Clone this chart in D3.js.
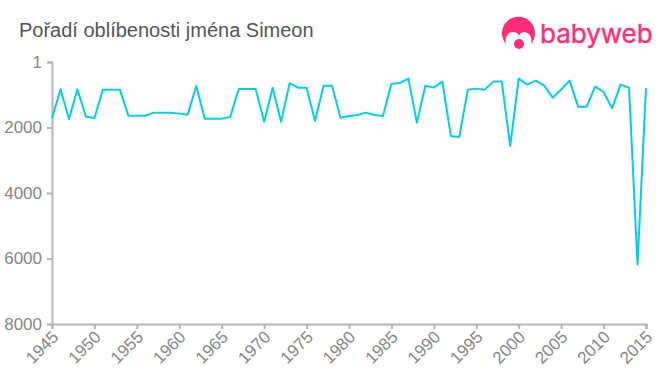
<!DOCTYPE html>
<html>
<head>
<meta charset="utf-8">
<script src="https://cdn.jsdelivr.net/npm/d3@7"></script>
<style>
  html, body { margin: 0; padding: 0; background: #fff; }
  svg { display: block; font-family: "Liberation Sans", Arial, sans-serif; }
</style>
</head>
<body>
<svg id="chart" width="660" height="375"></svg>
<script>
const years = d3.range(1945, 2016);
const ranks = [
  1720, 835, 1740, 835, 1670, 1710, 845, 845, 845, 1640,
  1640, 1640, 1547, 1547, 1547, 1577, 1608, 733, 1730, 1730,
  1730, 1679, 824, 824, 824, 1822, 784, 1822, 651, 784,
  784, 1801, 723, 723, 1700, 1649, 1618, 1547, 1618, 1649,
  662, 641, 509, 1853, 723, 784, 600, 2259, 2290, 845,
  814, 845, 600, 600, 2565, 509, 692, 570, 723, 1090,
  845, 570, 1364, 1364, 754, 916, 1415, 692, 784, 6180,
  803
];
const xTicks = d3.range(1945, 2016, 5);
const yTicks = [1, 2000, 4000, 6000, 8000];
const title = "Pořadí oblíbenosti jména Simeon";
const brand = "babyweb";

const svg = d3.select("#chart");

const x = d3.scaleLinear().domain([1945, 2015]).range([52, 646]);
const y = d3.scaleLinear().domain([1, 8000]).range([62, 324]);

const axisColor = "#b5b5b5";
const labelColor = "#868686";

const line = d3.line()
  .x((d, i) => x(years[i]))
  .y(d => y(d));

// axes
const yAxis = svg.append("g")
  .attr("transform", "translate(52,0)")
  .call(d3.axisLeft(y).tickValues(yTicks).tickSize(5).tickFormat(d3.format("d")));

const xAxis = svg.append("g")
  .attr("transform", "translate(0,324)")
  .call(d3.axisBottom(x).tickValues(xTicks).tickSize(5).tickFormat(d3.format("d")));

[yAxis, xAxis].forEach(g => {
  g.selectAll(".domain").attr("stroke", axisColor).attr("stroke-width", 2);
  g.selectAll(".tick line").attr("stroke", axisColor).attr("stroke-width", 2);
  g.selectAll("text")
    .attr("fill", labelColor)
    .attr("font-family", '"Liberation Sans", Arial, sans-serif')
    .attr("font-size", 17);
});

yAxis.selectAll("text").attr("x", -10);

xAxis.selectAll("text")
  .attr("text-anchor", "end")
  .attr("x", 0)
  .attr("y", 0)
  .attr("dy", 0)
  .attr("transform", "translate(7,14) rotate(-45)");

// series
svg.append("path")
  .datum(ranks)
  .attr("d", line)
  .attr("fill", "none")
  .attr("stroke", "#00cfea")
  .attr("stroke-width", 2)
  .attr("stroke-linejoin", "round");

svg.append("text")
  .attr("x", 19)
  .attr("y", 37)
  .attr("fill", "#555")
  .attr("font-size", 20)
  .text(title);

// logo
const logo = svg.append("g").attr("fill", "#ff2d78");

logo.append("path")
  .attr("d", "M506,44 A16.5,16.5 0 1 1 531,44 C533,38 529,32 524,32 C522,32 520,33 519,36 C518,33 516,32 513,32 C508,32 504,38 506,44 Z");

logo.append("circle")
  .attr("cx", 519)
  .attr("cy", 44)
  .attr("r", 5);

logo.append("text")
  .attr("x", 540)
  .attr("y", 43)
  .attr("font-family", "Inter, sans-serif")
  .attr("font-size", 26)
  .attr("font-weight", 400)
  .attr("stroke", "#ff2d78")
  .attr("stroke-width", 0.4)
  .text(brand);
</script>
</body>
</html>
